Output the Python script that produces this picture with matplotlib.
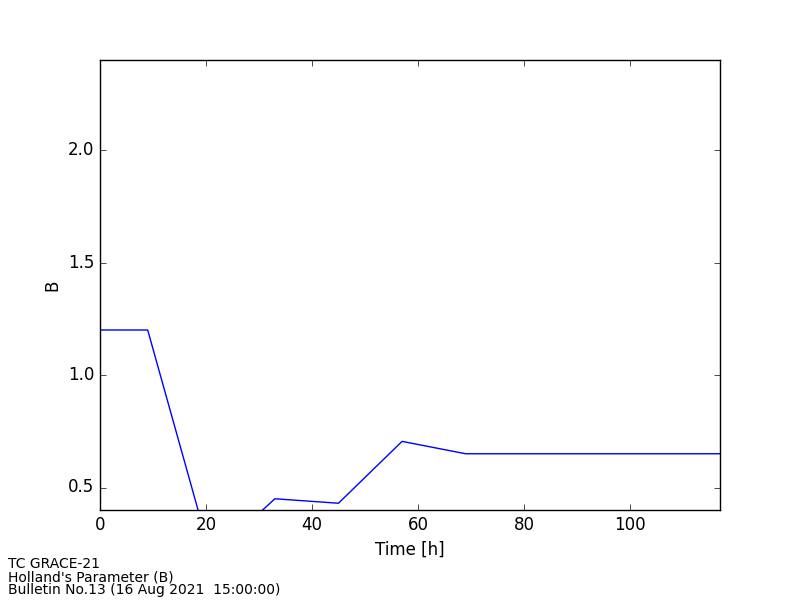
import matplotlib
matplotlib.use('Agg')
import matplotlib.pyplot as plt

plt.style.use('classic')

# forecast time [h] and Holland B values
hours = [0, 9, 21, 33, 45, 57, 69, 117]
holland_b = [1.2, 1.2, 0.19, 0.45, 0.43, 0.705, 0.65, 0.65]

footer = ["TC GRACE-21",
          "Holland's Parameter (B)",
          "Bulletin No.13 (16 Aug 2021  15:00:00)"]

fig = plt.figure(figsize=(8, 6), dpi=100, facecolor='white')
fig.subplots_adjust(left=0.125, right=0.9, bottom=0.15, top=0.9)
ax = fig.add_subplot(111)
ax.plot(hours, holland_b, 'b-')
ax.set_xlim(0, 117)
ax.set_ylim(0.4, 2.4)
ax.set_yticks([0.5, 1.0, 1.5, 2.0])
ax.set_xlabel('Time [h]')
ax.set_ylabel('B')

fig.text(0.01, 0.005, "\n".join(footer), fontsize=10, ha='left', va='bottom',
         linespacing=0.9)

fig.savefig('out.png', dpi=100, facecolor='white')
